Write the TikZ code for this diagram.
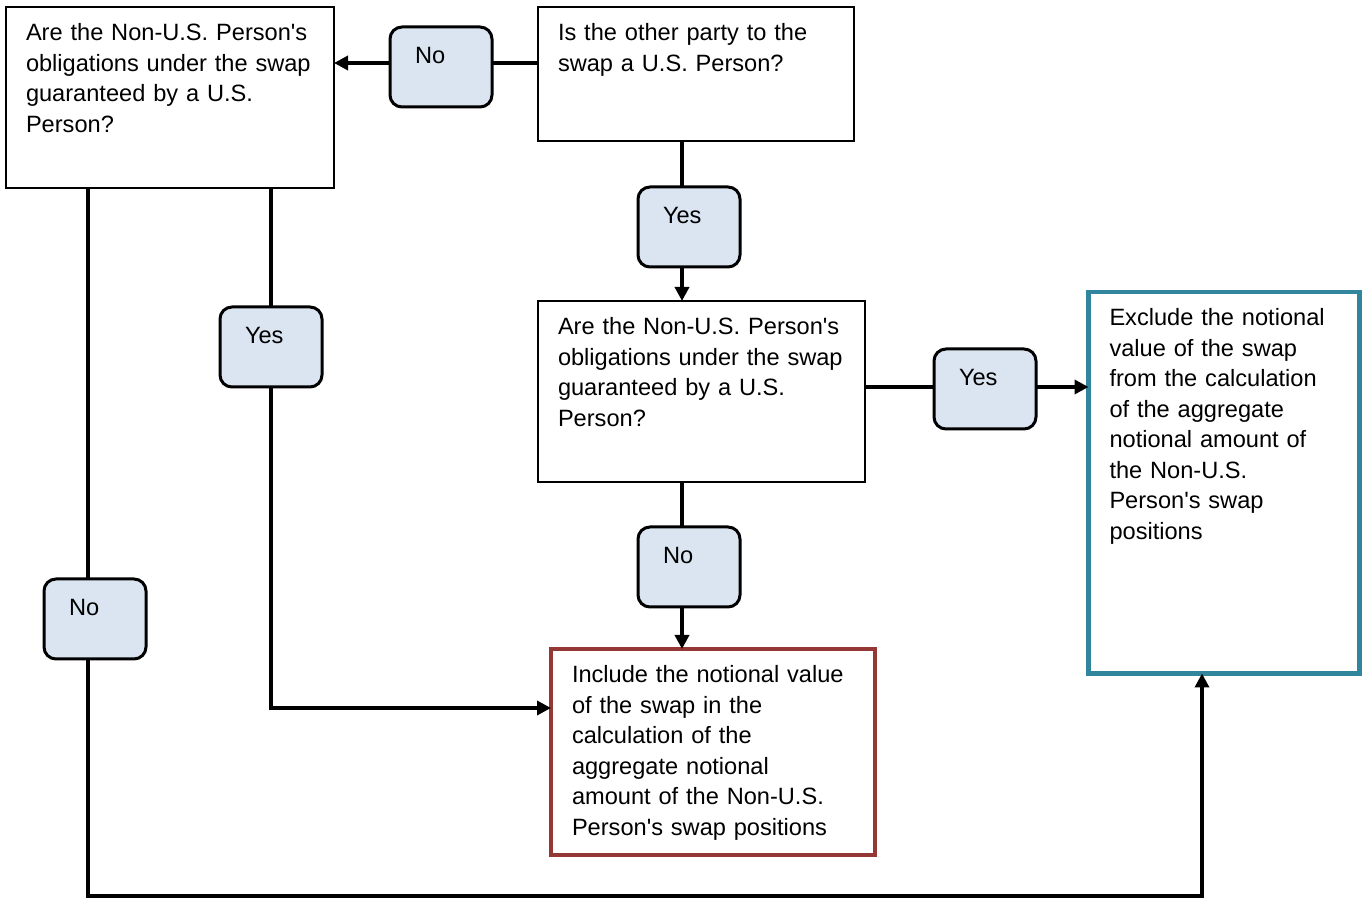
\documentclass[tikz,border=0pt]{standalone}
\usepackage{fontspec}
\setmainfont{Liberation Sans}
\usetikzlibrary{arrows.meta}
\definecolor{inclred}{HTML}{953735}
\definecolor{excteal}{HTML}{31859C}
\definecolor{lblfill}{HTML}{DBE5F1}

\begin{document}
\begin{tikzpicture}[x=0.5pt,y=-0.5pt,
    every node/.style={font=\fontsize{11.8}{15.25}\selectfont,align=left,anchor=north west,outer sep=0pt,inner ysep=0pt,text height=17pt},
    qbox/.style 2 args={draw=black,line width=0.75pt,fill=white,inner xsep=10pt,text width=#1,text depth=#2},
    endbox/.style 2 args={line width=2.2pt,fill=white,inner xsep=10.5pt,text width=#1,text depth=#2},
    lbl/.style={draw=black,line width=1.5pt,fill=lblfill,rounded corners=6pt,inner xsep=12.5pt,text width=26pt,text height=18.25pt,text depth=21.75pt},
    arr/.style={line width=2pt,-{Triangle[length=7pt,width=7pt]}}]
        \useasboundingbox (0,0) rectangle (1362,898);

        \node[qbox={144pt}{73.5pt}] (q1) at (6,7) {Are the Non-U.S. Person\textquotesingle s\\obligations under the swap\\guaranteed by a U.S.\\Person?};
        \node[qbox={138pt}{50pt}] (q2) at (538,7) {Is the other party to the\\swap a U.S. Person?};
        \node[qbox={143.5pt}{73.5pt}] (q3) at (538,301) {Are the Non-U.S. Person\textquotesingle s\\obligations under the swap\\guaranteed by a U.S.\\Person?};
        \node[endbox={141pt}{86pt},draw=inclred] (incl) at (551,649) {Include the notional value\\of the swap in the\\calculation of the\\aggregate notional\\amount of the Non-U.S.\\Person\textquotesingle s swap positions};
        \node[endbox={114.5pt}{173.75pt},draw=excteal] (excl) at (1088.5,292) {Exclude the notional\\value of the swap\\from the calculation\\of the aggregate\\notional amount of\\the Non-U.S.\\Person\textquotesingle s swap\\positions};

        \draw[arr] (q2.west |- 0,63) -- (q1.east |- 0,63);
        \draw[arr] (682,0 |- q2.south) -- (682,0 |- q3.north);
        \draw[arr] (q3.east |- 0,387) -- (excl.west |- 0,387);
        \draw[arr] (682,0 |- q3.south) -- (682,0 |- incl.north);
        \draw[arr] (271,0 |- q1.south) |- (incl.west |- 0,708);
        \draw[arr] (88,0 |- q1.south) |- (1202,896) -- (1202,0 |- excl.south);

        \node[lbl] (noA) at (390,27) {No};
        \node[lbl] (yesA) at (638,187) {Yes};
        \node[lbl] (yesB) at (934,349) {Yes};
        \node[lbl] (noB) at (638,527) {No};
        \node[lbl] (yesC) at (220,307) {Yes};
        \node[lbl] (noC) at (44,579) {No};
    \end{tikzpicture}
\end{document}
